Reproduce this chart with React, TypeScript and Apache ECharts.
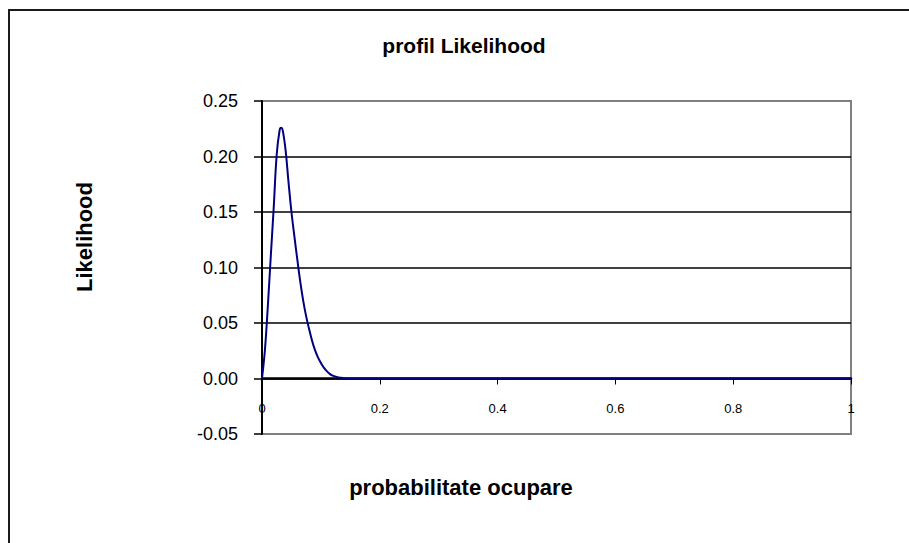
import React, { useEffect, useRef } from "react";
import * as echarts from "echarts";

const pValues = [
  0, 0.005, 0.01, 0.015, 0.02, 0.025, 0.03, 0.0325, 0.035, 0.04, 0.045, 0.05,
  0.055, 0.06, 0.065, 0.07, 0.075, 0.08, 0.085, 0.09, 0.095, 0.1, 0.105, 0.11,
  0.115, 0.12, 0.13, 0.14, 0.15, 0.2, 0.3, 0.4, 0.5, 0.6, 0.7, 0.8, 0.9, 1.0,
];
const likelihood = [
  0, 0.026, 0.066, 0.111, 0.155, 0.202, 0.224, 0.226, 0.224, 0.206, 0.177,
  0.15, 0.128, 0.107, 0.087, 0.07, 0.056, 0.0445, 0.034, 0.0255, 0.019, 0.014,
  0.0098, 0.0066, 0.0042, 0.0026, 0.0009, 0.0003, 0.0001, 0, 0, 0, 0, 0, 0, 0,
  0, 0,
];
const xTickLabels = ["0", "0.2", "0.4", "0.6", "0.8", "1"];
const chartTitle = "profil Likelihood";
const xTitle = "probabilitate ocupare";
const yTitle = "Likelihood";

export default function App() {
  const ref = useRef<HTMLDivElement>(null);
  useEffect(() => {
    if (!ref.current) return;
    const chart = echarts.init(ref.current, null, { renderer: "svg" });
    const font = "Arial, 'Liberation Sans', sans-serif";
    chart.setOption({
      animation: false,
      backgroundColor: "#ffffff",
      grid: {
        left: 262,
        top: 101,
        width: 589,
        height: 333,
        show: true,
        borderColor: "#808080",
        borderWidth: 2,
        backgroundColor: "transparent",
      },
      xAxis: [
        {
          type: "value",
          min: 0,
          max: 1,
          interval: 0.2,
          axisLine: { onZero: true, lineStyle: { color: "#000", width: 2.5 } },
          axisTick: { show: true, length: 6, lineStyle: { color: "#000", width: 1 } },
          axisLabel: { show: false },
          splitLine: { show: false },
        },
        {
          type: "value",
          position: "bottom",
          offset: -32,
          min: 0,
          max: 1,
          interval: 0.2,
          axisLine: { show: false, onZero: false },
          axisTick: { show: false },
          axisLabel: {
            margin: 0,
            fontSize: 13,
            fontFamily: font,
            color: "#000",
            formatter: (v: number) => xTickLabels[Math.round(v * 5)] ?? "",
          },
          splitLine: { show: false },
        },
      ],
      yAxis: {
        type: "value",
        min: -0.05,
        max: 0.25,
        interval: 0.05,
        axisLine: { show: true, onZero: false, lineStyle: { color: "#000", width: 2 } },
        axisTick: { show: true, length: 8, lineStyle: { color: "#000", width: 1.5 } },
        axisLabel: {
          margin: 24,
          fontSize: 18,
          fontFamily: font,
          color: "#000",
          formatter: (v: number) => v.toFixed(2),
        },
        splitLine: {
          show: true,
          lineStyle: {
            color: ["#808080", "#000", "#000", "#000", "#000", "#000", "#808080"],
            width: 1.5,
          },
        },
      },
      series: [
        {
          type: "line",
          xAxisIndex: 0,
          data: pValues.map((p, i) => [p, likelihood[i]]),
          smooth: 0.4,
          showSymbol: false,
          lineStyle: { color: "#000080", width: 2 },
          z: 5,
        },
      ],
      graphic: [
        {
          type: "rect",
          shape: { x: 9, y: 10, width: 1200, height: 1200 },
          style: { fill: "none", stroke: "#1a1a1a", lineWidth: 2 },
          silent: true,
        },
        {
          type: "text",
          x: 464,
          y: 45,
          style: {
            text: chartTitle,
            font: `bold 21px ${font}`,
            fill: "#000",
            textAlign: "center",
            textVerticalAlign: "middle",
          },
        },
        {
          type: "text",
          x: 461,
          y: 487,
          style: {
            text: xTitle,
            font: `bold 22px ${font}`,
            fill: "#000",
            textAlign: "center",
            textVerticalAlign: "middle",
          },
        },
        {
          type: "text",
          x: 84,
          y: 237,
          rotation: Math.PI / 2,
          style: {
            text: yTitle,
            font: `bold 22px ${font}`,
            fill: "#000",
            textAlign: "center",
            textVerticalAlign: "middle",
          },
        },
      ],
    });
    return () => chart.dispose();
  }, []);
  return (
    <div
      ref={ref}
      style={{ position: "fixed", left: 0, top: 0, width: 909, height: 543 }}
    />
  );
}
